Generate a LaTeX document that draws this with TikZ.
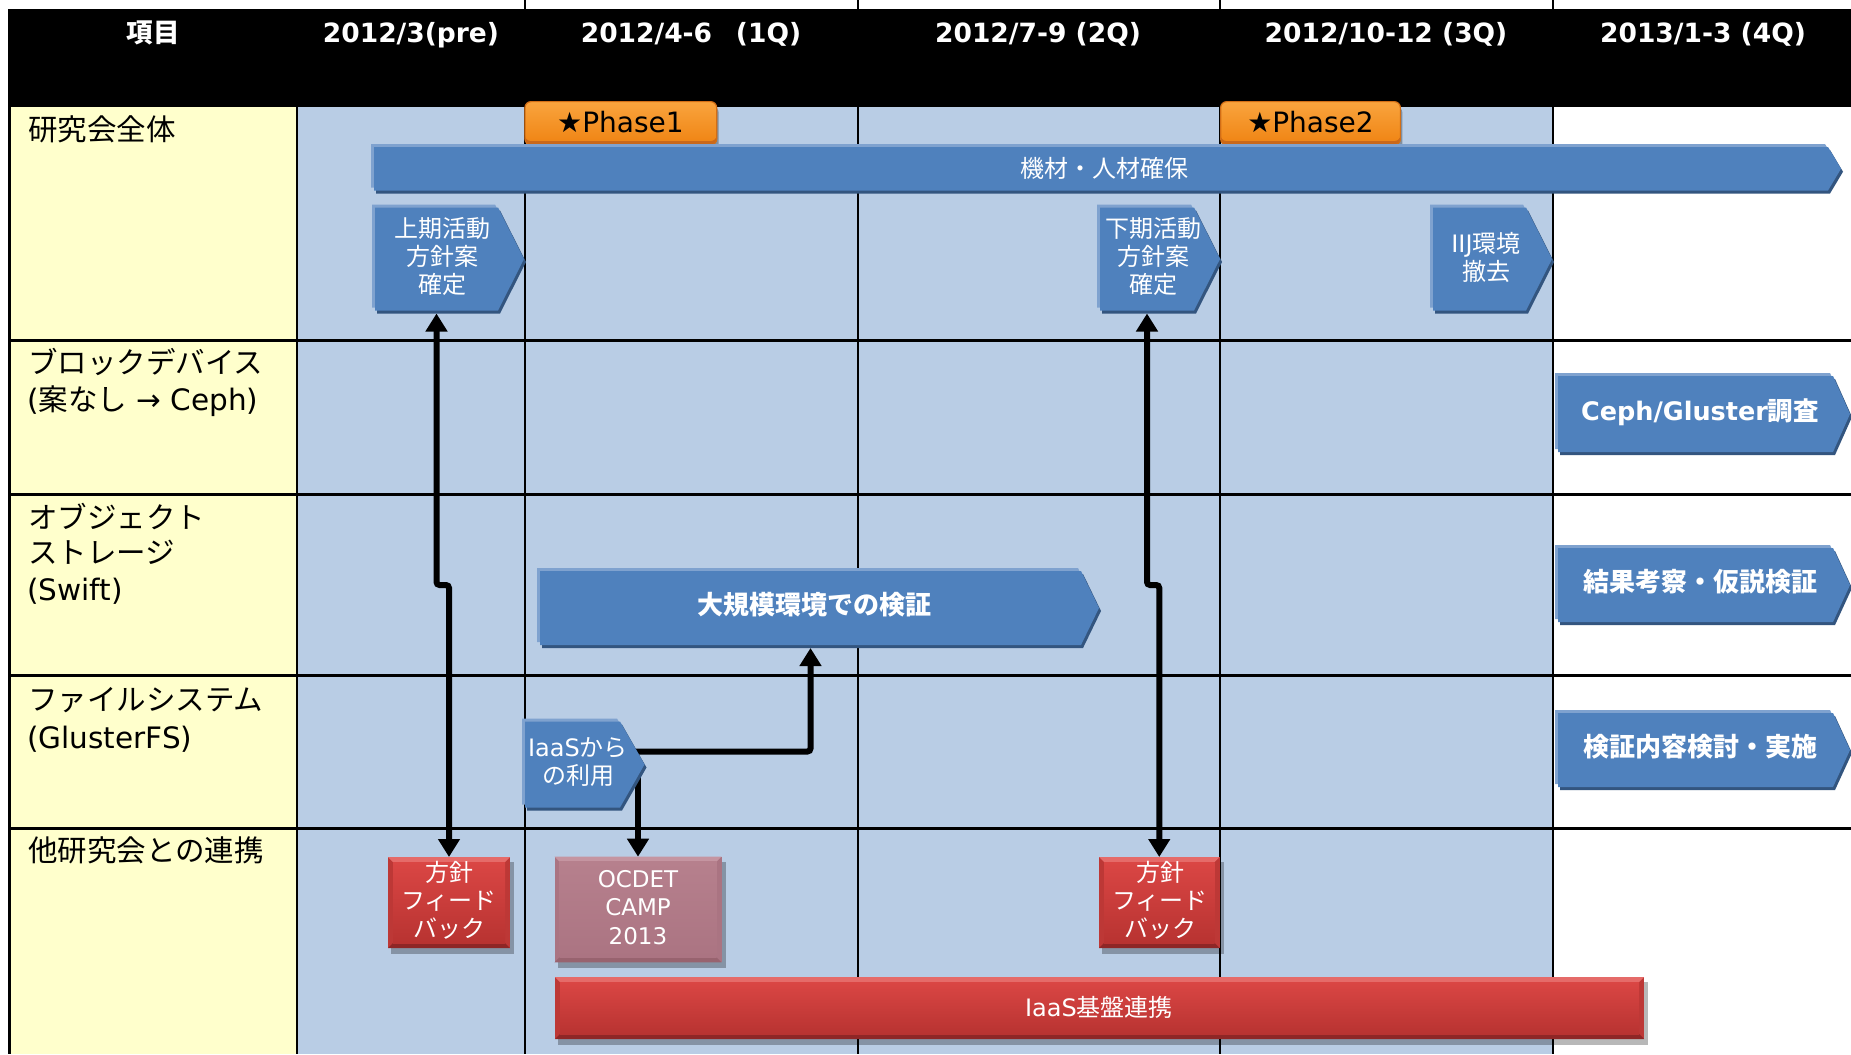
\documentclass[tikz,border=0pt]{standalone}
\usepackage{fontspec}
\setmainfont{DejaVu Sans}
\newfontfamily\jp{Noto Sans CJK JP}
\newcommand\jt[1]{{\jp #1}}
\usetikzlibrary{calc,arrows.meta}
\pgfdeclarelayer{grid}
\pgfdeclarelayer{links}
\pgfdeclarelayer{shapes}
\pgfsetlayers{grid,links,shapes,main}

\definecolor{lane}{HTML}{B9CDE5}
\definecolor{lblcol}{HTML}{FFFFCC}
\definecolor{bMid}{HTML}{4F81BD}
\definecolor{bHi}{HTML}{7FA2CF}
\definecolor{bLo}{HTML}{33557F}
\definecolor{rSide}{HTML}{BD3836}
\definecolor{rHi}{HTML}{E56B69}
\definecolor{rLo}{HTML}{8E2626}
\definecolor{rTop}{HTML}{DA4644}
\definecolor{rBot}{HTML}{B83331}
\definecolor{pSide}{HTML}{AA7482}
\definecolor{pHi}{HTML}{C595A1}
\definecolor{pLo}{HTML}{98636F}
\definecolor{pTop}{HTML}{B6808D}
\definecolor{pBot}{HTML}{AB7482}
\definecolor{oTop}{HTML}{F9A43E}
\definecolor{oBot}{HTML}{F08616}
\definecolor{oLo}{HTML}{C9681A}
\definecolor{oEdge}{HTML}{D26E16}

% blue pentagon arrow drawn around a body node, #2 = tip length
\newcommand\bluechev[2]{%
  \begin{pgfonlayer}{shapes}
    \foreach \dx/\dy/\col in {-3/-3/bHi,2/3/bLo,0/0/bMid}{%
      \fill[\col] ($(#1.north west)+(\dx,\dy)$) -- ($(#1.north east)+(\dx,\dy)$)
        -- ($(#1.east)+(#2+\dx,\dy)$) -- ($(#1.south east)+(\dx,\dy)$)
        -- ($(#1.south west)+(\dx,\dy)$) -- cycle;}
  \end{pgfonlayer}}

% bevelled box, #2 = colour prefix
\newcommand\bevelbox[2]{%
  \begin{pgfonlayer}{shapes}
    \fill[black,opacity=.28] ($(#1.north west)+(3,5)$) rectangle ($(#1.south east)+(4,6)$);
    \fill[#2Side] (#1.north west) rectangle (#1.south east);
    \fill[#2Hi] (#1.north west) -- (#1.north east) -- ($(#1.north east)+(-5,5)$) -- ($(#1.north west)+(5,5)$) -- cycle;
    \fill[#2Lo] (#1.south west) -- (#1.south east) -- ($(#1.south east)+(-5,-5)$) -- ($(#1.south west)+(5,-5)$) -- cycle;
    \shade[top color=#2Top, bottom color=#2Bot] ($(#1.north west)+(5,5)$) rectangle ($(#1.south east)+(-5,-5)$);
  \end{pgfonlayer}}

% orange milestone tag
\newcommand\phasebox[1]{%
  \begin{pgfonlayer}{shapes}
    \fill[black,opacity=.3,rounded corners=6] ($(#1.north west)+(2,5)$) rectangle ($(#1.south east)+(2,5)$);
    \fill[oLo,rounded corners=6] (#1.north west) rectangle (#1.south east);
    \shade[rounded corners=6, top color=oTop, bottom color=oBot] (#1.north west) rectangle ($(#1.south east)+(0,-4)$);
    \draw[oEdge, line width=1.2, rounded corners=6] (#1.north west) rectangle (#1.south east);
  \end{pgfonlayer}}

\begin{document}
\begin{tikzpicture}[x=1pt,y=-1pt,
  body/.style={inner sep=0, outer sep=0, rectangle},
  hdrtxt/.style={anchor=base, inner sep=0, text=white, font=\fontsize{26.5}{30}\selectfont\bfseries},
  lbltxt/.style={anchor=base west, inner sep=0, font=\fontsize{29.5}{35}\selectfont},
  wtxt/.style={text=white, align=center, inner sep=0, font=\fontsize{24}{28}\selectfont},
  bigtxt/.style={text=white, align=center, inner sep=0, font=\fontsize{26}{30}\selectfont\bfseries},
  phtxt/.style={anchor=base, inner sep=0, text=black, font=\fontsize{28}{30}\selectfont},
  arrowline/.style={line width=6, rounded corners=3},
  onehead/.style={arrowline, -{Triangle[width=21pt,length=18pt]}},
  twohead/.style={arrowline, {Triangle[width=21pt,length=18pt]}-{Triangle[width=21pt,length=18pt]}}]

\useasboundingbox (0,0) rectangle (1851,1054);

% ---------- table ----------
\begin{pgfonlayer}{grid}
  \fill[white] (0,0) rectangle (1851,1054);
  \fill[black] (9,9.5) rectangle (1851,107);
  \fill[lblcol] (9,107) rectangle (297,1054);
  \fill[lane] (297,107) rectangle (1553,1054);
  \foreach \y in {340,494,675,828} \draw[line width=3] (9,\y) -- (1851,\y);
  \draw[line width=2] (297,107) -- (297,1054);
  \foreach \x in {525,858,1220,1553} \draw[line width=2.5] (\x,0) -- (\x,1054);
  \draw[line width=2.5] (9.5,9.5) -- (9.5,1054);
\end{pgfonlayer}

% ---------- header ----------
\node[hdrtxt] (hd0) at (153,43) {\jt{項目}};
\node[hdrtxt] (hd1) at (411,43) {2012/3(pre)};
\node[hdrtxt] (hd2) at (691,43) {2012/4-6\hspace{0.9em}(1Q)};
\node[hdrtxt] (hd3) at (1038,43) {2012/7-9 (2Q)};
\node[hdrtxt] (hd4) at (1386,43) {2012/10-12 (3Q)};
\node[hdrtxt] (hd5) at (1703,43) {2013/1-3 (4Q)};

% ---------- row labels ----------
\node[lbltxt] (la1) at (28,140) {\jt{研究会全体}};
\node[lbltxt] (la2) at (28,373) {\jt{ブロックデバイス}};
\node[lbltxt] (la2b) at (27,410) {(\jt{案なし} → Ceph)};
\node[lbltxt] (la3) at (28,528) {\jt{オブジェクト}};
\node[lbltxt] (la3b) at (28,563) {\jt{ストレージ}};
\node[lbltxt] (la3c) at (27,600) {(Swift)};
\node[lbltxt] (la4) at (28,710) {\jt{ファイルシステム}};
\node[lbltxt] (la4b) at (27,748) {(GlusterFS)};
\node[lbltxt] (la5) at (28,861) {\jt{他研究会との連携}};

% ---------- milestones ----------
\node[body, minimum width=191.7, minimum height=43.3] (ph1) at (620.8,123.3) {};
\phasebox{ph1}
\node[phtxt] (ph1t) at (620.5,132) {★Phase1};
\node[body, minimum width=179.7, minimum height=43.3] (ph2) at (1310.5,123.3) {};
\phasebox{ph2}
\node[phtxt] (ph2t) at (1310.5,132) {★Phase2};

% ---------- blue task arrows ----------
\node[body, minimum width=1454, minimum height=43.5] (kizai) at (1101,168.75) {};
\bluechev{kizai}{13}
\node[wtxt] (kizait) at (1104,168) {\jt{機材・人材確保}};

\node[body, minimum width=123, minimum height=103] (up1) at (436.5,259) {};
\bluechev{up1}{26}
\node[wtxt] (up1t) at (442,256) {\jt{上期活動}\\\jt{方針案}\\\jt{確定}};

\node[body, minimum width=94, minimum height=103] (down1) at (1147,259) {};
\bluechev{down1}{26}
\node[wtxt] (down1t) at (1153,256) {\jt{下期活動}\\\jt{方針案}\\\jt{確定}};

\node[body, minimum width=93, minimum height=103] (iij) at (1479.5,259) {};
\bluechev{iij}{26}
\node[wtxt] (iijt) at (1486,257.5) {IIJ\jt{環境}\\\jt{撤去}};

\node[body, minimum width=95, minimum height=86] (iaas) at (572.5,764.5) {};
\bluechev{iaas}{24.5}
\node[wtxt] (iaast) at (578,762) {IaaS\jt{から}\\\jt{の利用}};

\node[body, minimum width=541, minimum height=74] (daikibo) at (810.5,608) {};
\bluechev{daikibo}{18}
\node[bigtxt] (daikibot) at (814.6,605) {\jt{大規模環境での検証}};

\node[body, minimum width=275, minimum height=76] (ceph) at (1695.5,414) {};
\bluechev{ceph}{17}
\node[bigtxt, font=\fontsize{25.5}{30}\selectfont\bfseries] (cepht) at (1700,412) {Ceph/Gluster\jt{調査}};

\node[body, minimum width=275, minimum height=74] (kekka) at (1695.5,585) {};
\bluechev{kekka}{17}
\node[bigtxt] (kekkat) at (1700,582) {\jt{結果考察・仮説検証}};

\node[body, minimum width=275, minimum height=74] (kensho) at (1695.5,750) {};
\bluechev{kensho}{17}
\node[bigtxt] (kenshot) at (1700,747) {\jt{検証内容検討・実施}};

% ---------- joint activities ----------
\node[body, minimum width=122, minimum height=91] (fb1) at (449,902.5) {};
\bevelbox{fb1}{r}
\node[wtxt] (fb1t) at (449,900) {\jt{方針}\\\jt{フィード}\\\jt{バック}};

\node[body, minimum width=120.5, minimum height=91] (fb2) at (1159.25,902.5) {};
\bevelbox{fb2}{r}
\node[wtxt] (fb2t) at (1160,900) {\jt{方針}\\\jt{フィード}\\\jt{バック}};

\node[body, minimum width=167, minimum height=105.6] (ocdet) at (638,909.5) {};
\bevelbox{ocdet}{p}
\node[wtxt, font=\fontsize{23}{28.5}\selectfont] (ocdett) at (638,907.5) {OCDET\\CAMP\\2013};

\node[body, minimum width=1089, minimum height=62] (kiban) at (1099.5,1008) {};
\bevelbox{kiban}{r}
\node[wtxt] (kibant) at (1099,1007.5) {IaaS\jt{基盤連携}};

% ---------- connectors ----------
\coordinate (jA) at (0,585);
\coordinate (jC) at (0,751.5);
\begin{pgfonlayer}{links}
  \draw[twohead] ($(up1.south)+(0,3)$) -- (up1.south |- jA) -- (jA -| fb1.north) -- (fb1.north);
  \draw[twohead] ($(down1.south)+(0,3)$) -- (down1.south |- jA) -- (jA -| fb2.north) -- (fb2.north);
  \draw[onehead] (iaas.east |- jC) -| ($(daikibo.south)+(0,3)$);
  \draw[onehead] (iaas.east -| ocdet.north) -- (ocdet.north);
\end{pgfonlayer}
\end{tikzpicture}
\end{document}
